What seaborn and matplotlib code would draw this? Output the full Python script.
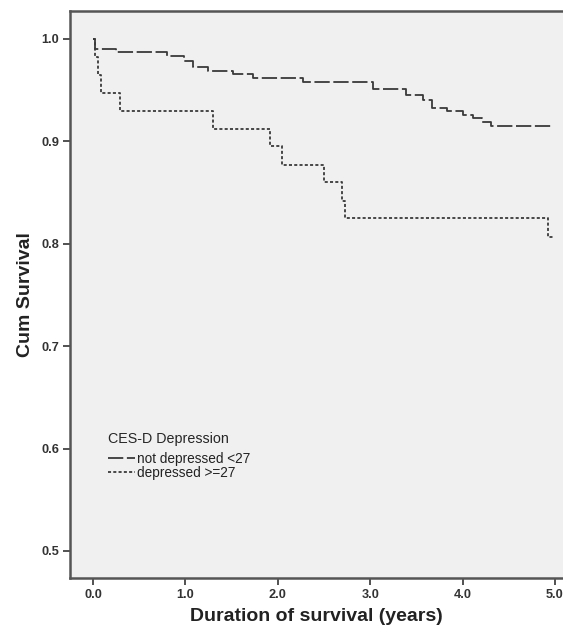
import pandas as pd
import matplotlib
matplotlib.use("Agg")
import matplotlib.pyplot as plt
import seaborn as sns

# ---------------- DATA ----------------
# Kaplan-Meier steps (time in years, cumulative survival)
not_dep_time = [0.0, 0.02, 0.25, 0.80, 0.98, 1.08, 1.25, 1.52, 1.73, 2.27,
                3.03, 3.39, 3.57, 3.67, 3.83, 4.00, 4.11, 4.21, 4.31, 4.98]
not_dep_surv = [1.000, 0.990, 0.987, 0.983, 0.978, 0.973, 0.969, 0.966, 0.962, 0.958,
                0.951, 0.945, 0.940, 0.933, 0.930, 0.926, 0.923, 0.919, 0.915, 0.915]

dep_time = [0.0, 0.02, 0.05, 0.09, 0.29, 1.30, 1.92, 2.05, 2.50, 2.69, 2.73, 4.92, 4.98]
dep_surv = [1.000, 0.982, 0.965, 0.947, 0.930, 0.912, 0.895, 0.877, 0.860, 0.842,
            0.825, 0.807, 0.807]

groups = ["not depressed <27", "depressed >=27"]
x_ticks = [0.0, 1.0, 2.0, 3.0, 4.0, 5.0]
y_ticks = [0.5, 0.6, 0.7, 0.8, 0.9, 1.0]
# --------------------------------------

df = pd.concat([
    pd.DataFrame({"time": not_dep_time, "surv": not_dep_surv, "group": groups[0]}),
    pd.DataFrame({"time": dep_time, "surv": dep_surv, "group": groups[1]}),
], ignore_index=True)

sns.set_style("ticks")
plt.rcParams["font.family"] = ["Liberation Sans", "DejaVu Sans"]
plt.rcParams["lines.scale_dashes"] = False

line_col = "#3a3a3a"
dash_styles = {groups[0]: (0, (11, 2.6)), groups[1]: (0, (2.2, 1.6))}

fig = plt.figure(figsize=(5.63, 6.33), dpi=100)
ax = fig.add_axes([70 / 563, 1 - 578 / 633, 1 - 70 / 563, 567 / 633])
ax.set_facecolor("#f0f0f0")

for g in groups:
    sub = df[df["group"] == g]
    sns.lineplot(data=sub, x="time", y="surv", ax=ax, color=line_col,
                 linewidth=1.3, drawstyle="steps-post", estimator=None,
                 sort=False, label=g, linestyle=dash_styles[g])

ax.set_xlim(-0.249, 5.087)
ax.set_ylim(0.4736, 1.0273)
ax.set_xticks(x_ticks)
ax.set_yticks(y_ticks)
ax.set_xticklabels([f"{v:.1f}" for v in x_ticks], fontsize=9.2, fontweight="bold",
                   color="#333333")
ax.set_yticklabels([f"{v:.1f}" for v in y_ticks], fontsize=9.2, fontweight="bold",
                   color="#333333")
ax.tick_params(axis="both", direction="out", length=5, width=1.2, color="#333333",
               pad=3)

for side in ["left", "bottom", "top"]:
    ax.spines[side].set_color("#555555")
    ax.spines[side].set_linewidth(1.8)
ax.spines["right"].set_visible(False)

ax.set_xlabel("Duration of survival (years)", fontsize=14, fontweight="bold",
              color="#222222", labelpad=5)
ax.set_ylabel("Cum Survival", fontsize=14, fontweight="bold", color="#222222",
              labelpad=5)

leg = ax.legend(title="CES-D Depression", loc="upper left",
                bbox_to_anchor=(0.058, 0.274), frameon=False, fontsize=9.8,
                title_fontsize=10.3, handlelength=2.0, handletextpad=0.15,
                labelspacing=0.02, borderpad=0.2)
leg._legend_box.align = "left"
leg._legend_box.sep = 4
for t in leg.get_texts():
    t.set_color("#222222")

fig.savefig("out.png", dpi=100)
